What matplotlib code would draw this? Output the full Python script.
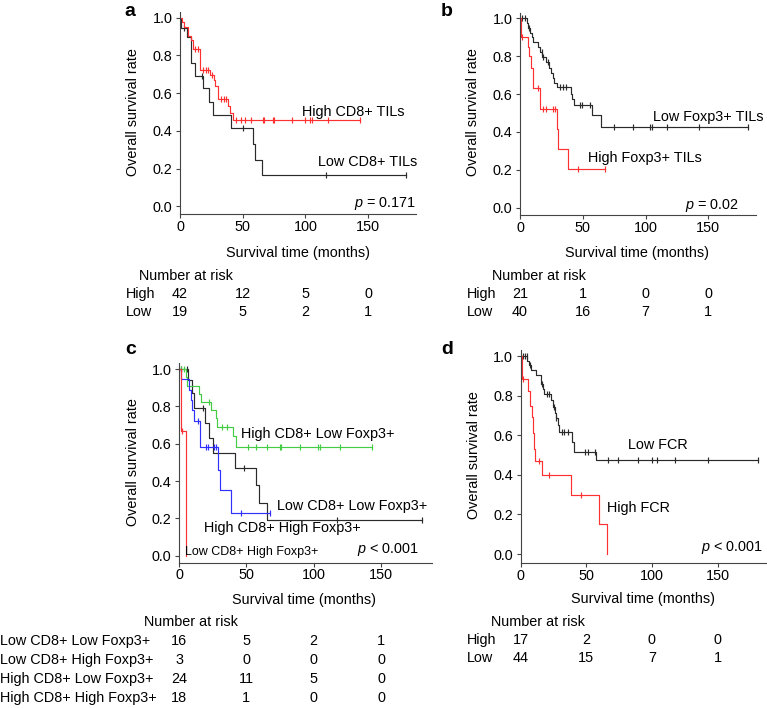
"""
Kaplan-Meier survival curves by CD8+ / Foxp3+ TILs and FCR, with number-at-risk tables
"""

import numpy as np
import matplotlib
matplotlib.use("Agg")
import matplotlib.pyplot as plt

plt.rcParams['font.family'] = ['Liberation Sans', 'DejaVu Sans']
plt.rcParams['mathtext.fontset'] = 'custom'
plt.rcParams['mathtext.it'] = 'Liberation Sans:italic'
plt.rcParams['mathtext.rm'] = 'Liberation Sans'

W, H = 767, 708
FS = 10.4
SPINE = '#444444'
RED = '#ff3030'
BLACK = '#2a2a2a'
GREEN = '#44cc44'
BLUE = '#3030ff'

# ---- panel a: CD8+ TILs ----
a_high_t = [1.5, 3.5, 6.5, 8.5, 10.5, 16.0, 23.8, 27.2, 28.3, 30.4, 38.4, 39.7, 42.3]
a_high_s = [0.976, 0.952, 0.905, 0.881, 0.833, 0.72, 0.695, 0.667, 0.64, 0.567, 0.53, 0.495, 0.46]
a_high_c = [12.0, 14.6, 18.5, 20.4, 22.5, 25.7, 32.5, 35.2, 37.0, 45.0, 48.4, 52.0, 56.9,
            66.0, 67.0, 74.0, 75.4, 89.0, 100.0, 104.0, 105.0, 118.0, 144.0]
a_low_t = [0.8, 5.5, 8.7, 12.1, 18.7, 23.2, 26.3, 40.8, 57.9, 60.0, 65.8]
a_low_s = [0.947, 0.895, 0.76, 0.69, 0.625, 0.555, 0.485, 0.415, 0.33, 0.245, 0.165]
a_low_c = [3.4, 17.5, 50.3, 116.4, 180.0]

# ---- panel b: Foxp3+ TILs ----
b_high_t = [0.8, 6.0, 7.2, 8.5, 10.5, 16.0, 29.3, 30.6, 38.0]
b_high_s = [0.90, 0.85, 0.80, 0.74, 0.63, 0.52, 0.415, 0.31, 0.205]
b_high_c = [1.9, 14.0, 18.6, 20.5, 26.6, 27.9, 46.0, 67.8]
b_low_t = [5.6, 6.1, 8.0, 9.3, 10.6, 14.1, 16.0, 17.5, 20.5, 23.4, 24.7, 26.1, 27.4, 29.3,
           40.7, 41.8, 43.1, 57.5, 64.5]
b_low_s = [0.975, 0.95, 0.925, 0.90, 0.875, 0.85, 0.82, 0.795, 0.77, 0.74, 0.71, 0.685, 0.66,
           0.635, 0.60, 0.575, 0.54, 0.49, 0.425]
b_low_c = [1.9, 4.0, 7.2, 17.3, 18.6, 22.6, 31.9, 34.0, 36.4, 48.0, 49.5, 55.5,
           75.0, 90.4, 103.7, 105.0, 117.0, 142.8, 181.4]

# ---- panel c: combined CD8+ / Foxp3+ ----
c_hl_t = [5.0, 6.2, 14.9, 16.1, 23.5, 27.2, 28.5, 40.3, 42.1]
c_hl_s = [0.955, 0.91, 0.865, 0.825, 0.78, 0.735, 0.69, 0.64, 0.58]
c_hl_c = [1.7, 3.7, 22.3, 32.2, 35.9, 51.2, 56.9, 65.6, 75.0, 76.0, 89.9, 103.2, 104.7,
          119.3, 143.6]
c_lh_t = [1.5, 5.2]
c_lh_s = [0.667, 0.0]
c_lh_c = [2.5]
c_ll_t = [6.7, 9.9, 11.1, 19.0, 22.0, 25.5, 41.9, 57.5, 59.5, 65.3]
c_ll_s = [0.94, 0.87, 0.79, 0.71, 0.63, 0.55, 0.47, 0.377, 0.28, 0.19]
c_ll_c = [1.7, 5.7, 18.0, 48.0, 117.0, 180.7]
c_hh_t = [1.2, 7.4, 8.6, 9.9, 11.5, 15.6, 28.8, 30.5, 38.7]
c_hh_s = [0.944, 0.889, 0.833, 0.778, 0.722, 0.58, 0.46, 0.35, 0.23]
c_hh_c = [14.3, 19.7, 21.4, 25.9, 27.6, 46.0, 67.7]

# ---- panel d: FCR ----
d_high_t = [1.0, 5.2, 6.8, 8.6, 9.2, 10.0, 10.8, 16.0, 38.5, 60.0, 65.5]
d_high_s = [0.882, 0.824, 0.75, 0.69, 0.61, 0.53, 0.47, 0.40, 0.30, 0.15, 0.0]
d_high_c = [2.0, 14.2, 21.5, 46.0]
d_low_t = [5.0, 6.3, 7.5, 11.4, 15.5, 16.8, 18.0, 23.1, 24.9, 26.1, 26.9, 28.2, 29.2,
           38.8, 40.9, 57.1]
d_low_s = [0.977, 0.955, 0.93, 0.906, 0.86, 0.836, 0.81, 0.78, 0.745, 0.71, 0.685, 0.65,
           0.615, 0.567, 0.517, 0.475]
d_low_c = [1.8, 3.3, 4.6, 6.8, 16.5, 19.8, 21.8, 25.6, 27.2, 31.2, 33.2, 35.8, 49.0, 51.5,
           56.6, 66.2, 74.4, 89.6, 99.7, 103.6, 117.5, 142.4, 180.5]

# number at risk tables
risk_times = [0, 50, 100, 150]
a_risk_labels = ['High', 'Low']
a_risk = [[42, 12, 5, 0], [19, 5, 2, 1]]
b_risk_labels = ['High', 'Low']
b_risk = [[21, 1, 0, 0], [40, 16, 7, 1]]
c_risk_labels = ['Low CD8+ Low Foxp3+', 'Low CD8+ High Foxp3+',
                 'High CD8+ Low Foxp3+', 'High CD8+ High Foxp3+']
c_risk = [[16, 5, 2, 1], [3, 0, 0, 0], [24, 11, 5, 0], [18, 1, 0, 0]]
d_risk_labels = ['High', 'Low']
d_risk = [[17, 2, 0, 0], [44, 15, 7, 1]]


fig = plt.figure(figsize=(W / 100, H / 100), dpi=100)


def ftext(x, y, s, **kw):
    # place text at pixel coords (origin top-left)
    kw.setdefault('fontsize', FS)
    kw.setdefault('va', 'center')
    fig.text(x / W, 1 - y / H, s, **kw)


def add_ax(left, top, right, bottom, ylo, xmax=188):
    ax = fig.add_axes([left / W, 1 - bottom / H, (right - left) / W, (bottom - top) / H])
    ax.set_xlim(0, xmax)
    ax.set_ylim(ylo, 1.03)
    for s in ['top', 'right']:
        ax.spines[s].set_visible(False)
    for s in ['left', 'bottom']:
        ax.spines[s].set_color(SPINE)
        ax.spines[s].set_linewidth(0.8)
    ax.set_xticks([0, 50, 100, 150])
    ax.set_yticks([0, 0.2, 0.4, 0.6, 0.8, 1.0])
    ax.set_yticklabels(['%.1f' % v for v in [0, 0.2, 0.4, 0.6, 0.8, 1.0]])
    ax.tick_params(axis='both', labelsize=FS, length=3, width=0.8, color=SPINE)
    ax.tick_params(axis='x', pad=1)
    ax.tick_params(axis='y', pad=2.5)
    return ax


def km(ax, t, s, cens, color):
    end = max(max(t), max(cens))
    tt = np.r_[0.0, t, end]
    ss = np.r_[1.0, s, s[-1]]
    ax.step(tt, ss, where='post', color=color, lw=0.85)
    idx = np.searchsorted(tt, cens, side='right') - 1
    ax.plot(cens, ss[idx], ls='none', marker='|', ms=5, mew=0.85, color=color)


def risk_table(x0, y_title, x_title, labels, rows, label_x, ax, dy):
    ftext(x_title, y_title, 'Number at risk', ha='center')
    # numbers centred on the axis tick positions
    for i, (lab, row) in enumerate(zip(labels, rows)):
        y = y_title + dy * (i + 1)
        ftext(label_x, y, lab, ha='left')
        for t, n in zip(risk_times, row):
            xpx = x0 + (ax.transData.transform((t, 0))[0] - ax.transData.transform((0, 0))[0])
            ftext(xpx, y, str(n), ha='center')


# panel a
ax_a = add_ax(180, 11.9, 415.6, 214.3, -0.042)
km(ax_a, a_low_t, a_low_s, a_low_c, BLACK)
km(ax_a, a_high_t, a_high_s, a_high_c, RED)
ftext(301.7, 111.7, 'High CD8+ TILs')
ftext(317.7, 161.7, 'Low CD8+ TILs')
ftext(416, 204, r'$p$ = 0.171', ha='right')
ftext(133, 112, 'Overall survival rate', ha='center', rotation=90)
ftext(298, 253, 'Survival time (months)', ha='center')
ftext(130, 11, 'a', ha='center', fontsize=14, fontweight='bold')

# panel b
ax_b = add_ax(520, 12.7, 756, 215, -0.0386)
km(ax_b, b_low_t, b_low_s, b_low_c, BLACK)
km(ax_b, b_high_t, b_high_s, b_high_c, RED)
ftext(653.3, 116.7, 'Low Foxp3+ TILs')
ftext(587.7, 158.3, 'High Foxp3+ TILs')
ftext(739, 206, r'$p$ = 0.02', ha='right')
ftext(473, 112, 'Overall survival rate', ha='center', rotation=90)
ftext(637, 253, 'Survival time (months)', ha='center')
ftext(447, 11, 'b', ha='center', fontsize=14, fontweight='bold')

# panel c
ax_c = add_ax(179, 363.4, 432.2, 562.7, -0.0375)
km(ax_c, c_ll_t, c_ll_s, c_ll_c, BLACK)
km(ax_c, c_hl_t, c_hl_s, c_hl_c, GREEN)
km(ax_c, c_hh_t, c_hh_s, c_hh_c, BLUE)
km(ax_c, c_lh_t, c_lh_s, c_lh_c, RED)
ftext(240.7, 434.3, 'High CD8+ Low Foxp3+')
ftext(276.7, 505.7, 'Low CD8+ Low Foxp3+')
ftext(204, 528.3, 'High CD8+ High Foxp3+')
ftext(184.7, 551.7, 'Low CD8+ High Foxp3+', fontsize=9)
ftext(419, 550, r'$p$ < 0.001', ha='right')
ftext(133, 462, 'Overall survival rate', ha='center', rotation=90)
ftext(304, 600, 'Survival time (months)', ha='center')
ftext(131, 349, 'c', ha='center', fontsize=14, fontweight='bold')

# panel d
ax_d = add_ax(520.7, 350.1, 767.4, 563, -0.045)
km(ax_d, d_low_t, d_low_s, d_low_c, BLACK)
km(ax_d, d_high_t, d_high_s, d_high_c, RED)
ftext(627.7, 445, 'Low FCR')
ftext(606.7, 508.3, 'High FCR')
ftext(763, 548, r'$p$ < 0.001', ha='right')
ftext(474, 455, 'Overall survival rate', ha='center', rotation=90)
ftext(643, 599, 'Survival time (months)', ha='center')
ftext(447, 349, 'd', ha='center', fontsize=14, fontweight='bold')

fig.canvas.draw()
risk_table(180, 276, 186, a_risk_labels, a_risk, 126, ax_a, 18)
risk_table(520, 276, 539, b_risk_labels, b_risk, 467, ax_b, 18)
risk_table(179, 622, 191, c_risk_labels, c_risk, 0, ax_c, 19)
risk_table(520.7, 622, 538, d_risk_labels, d_risk, 467, ax_d, 18)

fig.savefig('out.png', dpi=100)
